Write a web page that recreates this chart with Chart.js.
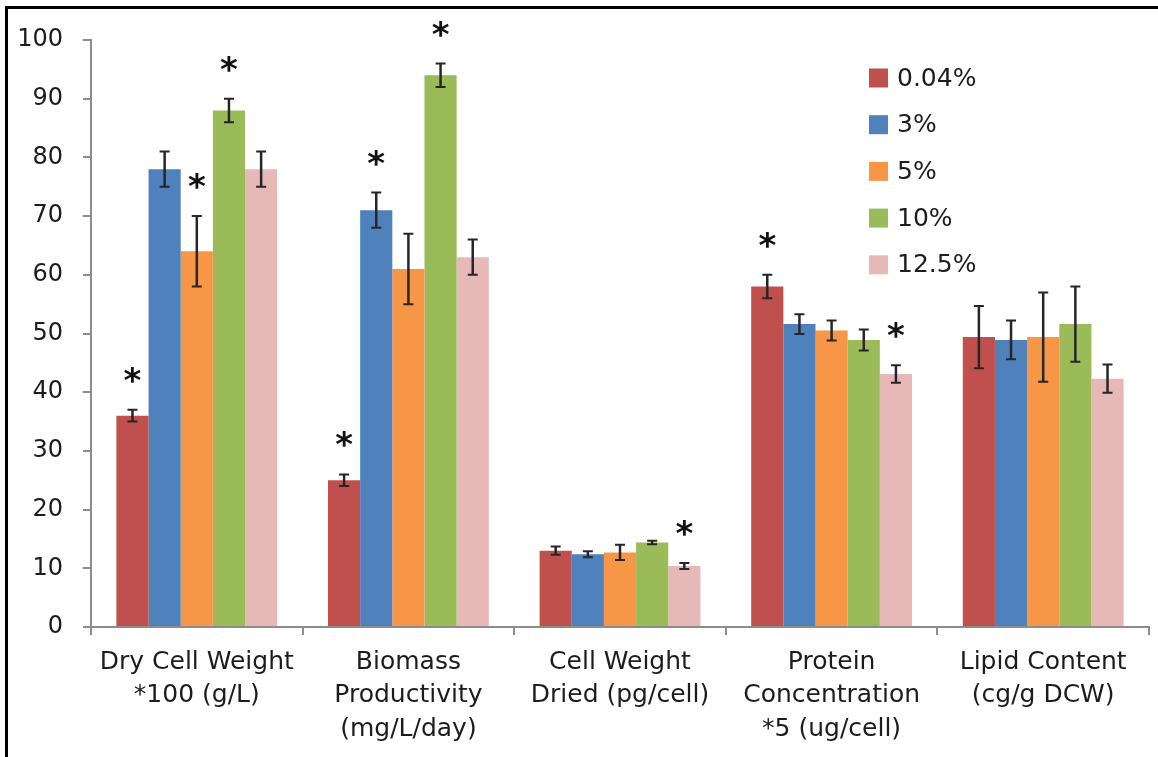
<!DOCTYPE html>
<html>
<head>
<meta charset="utf-8">
<script src="https://cdn.jsdelivr.net/npm/chart.js@4.4.1/dist/chart.umd.min.js"></script>
<style>
  html, body { margin: 0; padding: 0; background: #fff; }
  #wrap { width: 1158px; height: 757px; position: relative; }
</style>
</head>
<body>
<div id="wrap"><canvas id="c" width="1158" height="757"></canvas></div>
<script>
// Measured parameters per CO2 level
const categories = [
  ['Dry Cell Weight', '*100 (g/L)'],
  ['Biomass', 'Productivity', '(mg/L/day)'],
  ['Cell Weight', 'Dried (pg/cell)'],
  ['Protein', 'Concentration', '*5 (ug/cell)'],
  ['Lipid Content', '(cg/g DCW)']
];
const seriesNames = ['0.04%', '3%', '5%', '10%', '12.5%'];

const co2_004 = [36, 25, 13.0, 58, 49.4];
const co2_3   = [78, 71, 12.4, 51.6, 48.9];
const co2_5   = [64, 61, 12.7, 50.5, 49.4];
const co2_10  = [88, 94, 14.4, 48.9, 51.6];
const co2_125 = [78, 63, 10.4, 43.1, 42.3];

// standard deviations
const err_004 = [1, 1, 0.7, 2, 5.3];
const err_3   = [3, 3, 0.5, 1.7, 3.3];
const err_5   = [6, 6, 1.3, 1.7, 7.6];
const err_10  = [2, 2, 0.3, 1.8, 6.4];
const err_125 = [3, 3, 0.5, 1.5, 2.4];

// significant difference markers (*)
const sig_004 = [true, true, false, true, false];
const sig_3   = [false, true, false, false, false];
const sig_5   = [true, false, false, false, false];
const sig_10  = [true, true, false, false, false];
const sig_125 = [false, false, true, true, false];

const yTicks = [0, 10, 20, 30, 40, 50, 60, 70, 80, 90, 100];

const colors = ['#C0504D', '#4F81BD', '#F79646', '#9BBB59', '#E6B9B8'];
const values = [co2_004, co2_3, co2_5, co2_10, co2_125];
const errors = [err_004, err_3, err_5, err_10, err_125];
const sigs = [sig_004, sig_3, sig_5, sig_10, sig_125];

const FONT = 'DejaVu Sans';
const TEXT = '#1c1c1c';

const datasets = seriesNames.map((name, i) => ({
  label: name,
  data: values[i],
  errors: errors[i],
  sig: sigs[i],
  backgroundColor: colors[i],
  borderWidth: 0,
  categoryPercentage: 0.76,
  barPercentage: 1.0
}));

// error bars with caps, plus significance asterisks
const errorBarPlugin = {
  id: 'errorBars',
  afterDatasetsDraw(chart) {
    const ctx = chart.ctx;
    const y = chart.scales.y;
    ctx.save();
    chart.data.datasets.forEach((ds, di) => {
      const meta = chart.getDatasetMeta(di);
      meta.data.forEach((bar, i) => {
        const v = ds.data[i], e = ds.errors[i];
        const yTop = y.getPixelForValue(v + e);
        const yBot = y.getPixelForValue(v - e);
        const x = bar.x;
        ctx.strokeStyle = '#262626';
        ctx.lineWidth = 2.5;
        ctx.beginPath();
        ctx.moveTo(x, yTop); ctx.lineTo(x, yBot);
        ctx.stroke();
        ctx.lineWidth = 2;
        ctx.beginPath();
        ctx.moveTo(x - 5, yTop); ctx.lineTo(x + 5, yTop);
        ctx.moveTo(x - 5, yBot); ctx.lineTo(x + 5, yBot);
        ctx.stroke();
        if (ds.sig[i]) {
          const size = 34;
          ctx.font = 'bold ' + size + 'px ' + FONT;
          ctx.fillStyle = '#111';
          ctx.textAlign = 'center';
          ctx.textBaseline = 'alphabetic';
          const cy = yTop - 38;
          ctx.fillText('*', x, cy + 0.59 * size);
        }
      });
    });
    ctx.restore();
  }
};

// legend inside the plot, top right
const innerLegendPlugin = {
  id: 'innerLegend',
  afterDraw(chart) {
    const ctx = chart.ctx;
    ctx.save();
    const x0 = 869, y0 = 78, step = 46.7, box = 19;
    ctx.font = '25px ' + FONT;
    ctx.textBaseline = 'middle';
    ctx.textAlign = 'left';
    chart.data.datasets.forEach((ds, i) => {
      const cy = y0 + i * step;
      ctx.fillStyle = ds.backgroundColor;
      ctx.fillRect(x0, cy - box / 2, box, box);
      ctx.fillStyle = TEXT;
      ctx.fillText(ds.label, x0 + 28, cy + 1);
    });
    ctx.restore();
  }
};

// black frame on top and left edges
const framePlugin = {
  id: 'frame',
  afterDraw(chart) {
    const ctx = chart.ctx;
    ctx.save();
    ctx.fillStyle = '#000';
    ctx.fillRect(5, 6, 1158 - 5, 3);
    ctx.fillRect(5, 6, 3, 757 - 6);
    ctx.restore();
  }
};

new Chart(document.getElementById('c'), {
  type: 'bar',
  data: { labels: categories, datasets },
  plugins: [errorBarPlugin, innerLegendPlugin, framePlugin],
  options: {
    responsive: false,
    animation: false,
    devicePixelRatio: 1,
    layout: { padding: { left: 0, right: 9, top: 40, bottom: 0 } },
    plugins: {
      legend: { display: false },
      tooltip: { enabled: false },
      title: { display: false }
    },
    scales: {
      x: {
        grid: {
          offset: true,
          drawOnChartArea: false,
          drawTicks: true,
          tickLength: 8,
          color: '#8c8c8c',
          lineWidth: 2
        },
        border: { display: true, color: '#8c8c8c', width: 2 },
        ticks: {
          color: TEXT,
          font: { family: FONT, size: 25, lineHeight: 1.33 },
          padding: 11,
          maxRotation: 0,
          autoSkip: false
        },
        afterFit(scale) { scale.height = 130; }
      },
      y: {
        min: 0,
        max: 100,
        afterBuildTicks(scale) { scale.ticks = yTicks.map(v => ({ value: v })); },
        grid: {
          drawOnChartArea: false,
          drawTicks: true,
          tickLength: 8,
          color: '#8c8c8c',
          lineWidth: 2
        },
        border: { display: true, color: '#8c8c8c', width: 2 },
        ticks: {
          color: TEXT,
          font: { family: FONT, size: 24 },
          padding: 20
        },
        afterFit(scale) { scale.width = 91; }
      }
    }
  }
});
</script>
</body>
</html>
